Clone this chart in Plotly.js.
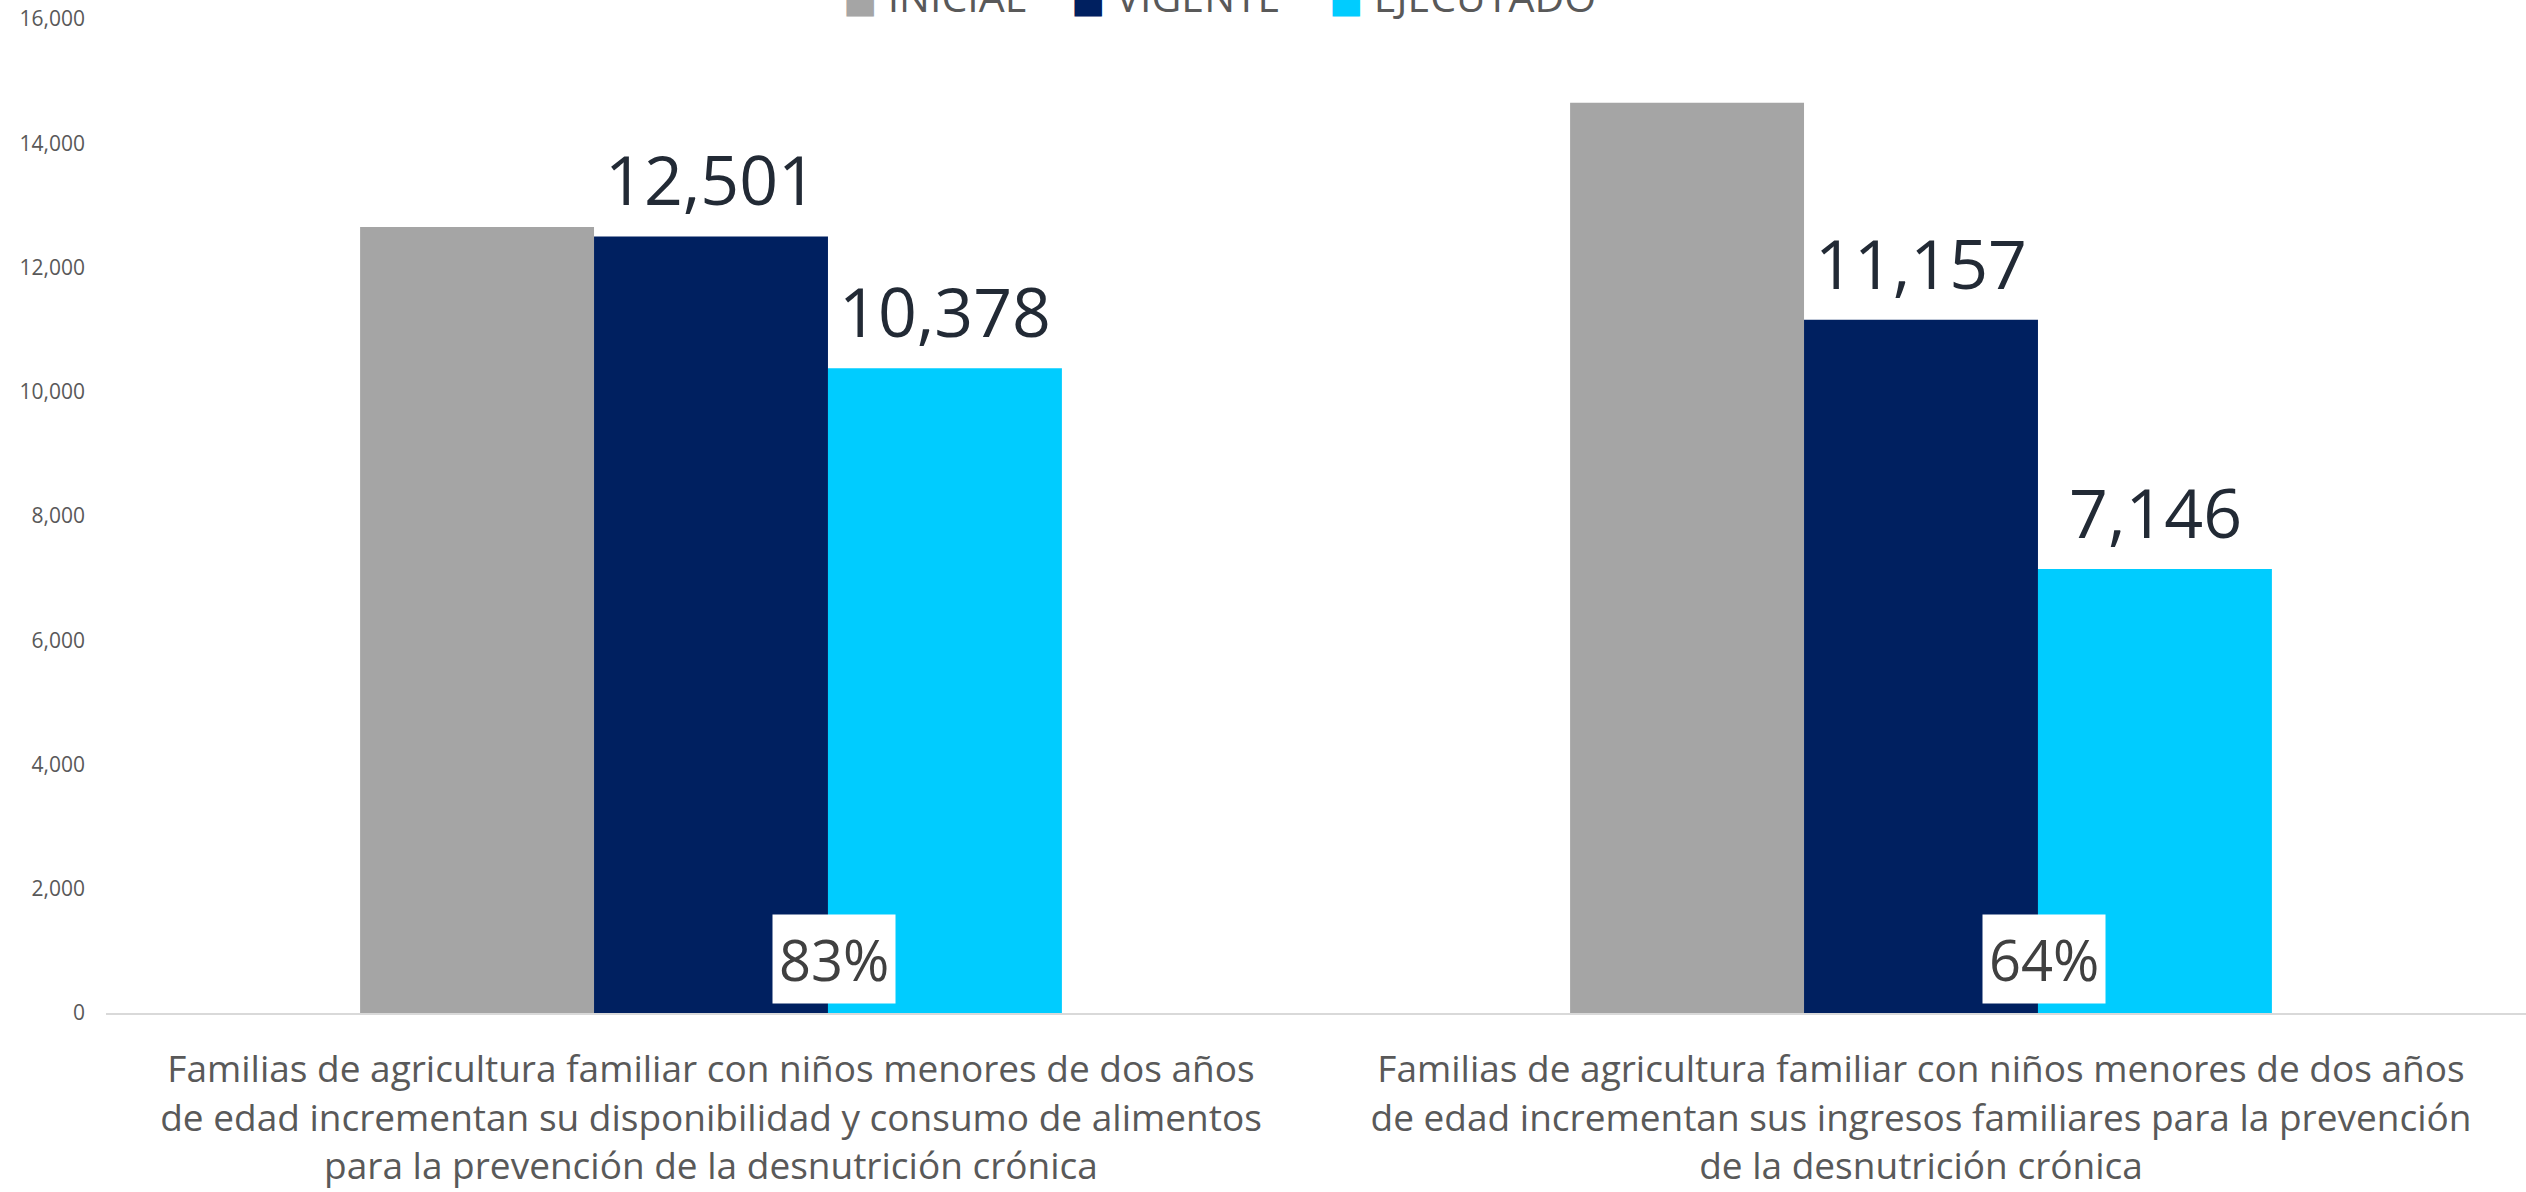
<!DOCTYPE html>
<html>
<head>
<meta charset="utf-8">
<script src="https://cdn.plot.ly/plotly-3.0.1.min.js"></script>
<style>
  html, body { margin: 0; padding: 0; background: #ffffff; }
  #chart { width: 2526px; height: 1192px; }
</style>
</head>
<body>
<div id="chart"></div>
<script>
// ---- data ----
const categories = [
  'Familias de agricultura familiar con niños menores de dos años<br>de edad incrementan su disponibilidad y consumo de alimentos<br>para la prevención de la desnutrición crónica',
  'Familias de agricultura familiar con niños menores de dos años<br>de edad incrementan sus ingresos familiares para la prevención<br>de la desnutrición crónica'
];
const seriesNames = ['INICIAL', 'VIGENTE', 'EJECUTADO'];
const inicial = [12650, 14650];
const vigente = [12501, 11157];
const ejecutado = [10378, 7146];
const yTicks = [0, 2000, 4000, 6000, 8000, 10000, 12000, 14000, 16000];

// ---- style ----
const colors = ['#A5A5A5', '#002060', '#00CCFF'];
const FONT = '"Open Sans", "Noto Sans", "DejaVu Sans", sans-serif';
const labelColor = '#222A35';
const axisText = '#595959';
const BAR_PX = 234;

const traces = seriesNames.map((n, i) => ({
  type: 'bar', name: n, x: categories, y: [inicial, vigente, ejecutado][i],
  marker: { color: colors[i] }, hoverinfo: 'skip'
}));

const annotations = [];
// value labels above VIGENTE and EJECUTADO bars
categories.forEach((c, i) => {
  [[vigente, 0], [ejecutado, BAR_PX]].forEach(([arr, dx]) => {
    annotations.push({
      x: c, y: arr[i], xref: 'x', yref: 'y',
      xanchor: 'center', yanchor: 'bottom',
      xshift: dx, yshift: 9,
      text: arr[i].toLocaleString('en-US'), showarrow: false,
      font: { family: FONT, size: 68, color: labelColor }
    });
  });
});
// percentage boxes (executed / current)
categories.forEach((c, i) => {
  const pct = Math.round(ejecutado[i] / vigente[i] * 100);
  annotations.push({
    x: c, y: 0, xref: 'x', yref: 'y',
    xanchor: 'center', yanchor: 'bottom',
    xshift: 123, yshift: 9,
    text: pct + '%', showarrow: false,
    bgcolor: '#ffffff', borderpad: 6,
    font: { family: FONT, size: 56, color: '#404040' }
  });
});
// legend entries
const legendX = [0.3037, 0.398, 0.5045];
seriesNames.forEach((n, i) => {
  annotations.push({
    x: legendX[i], y: 0.993, xref: 'paper', yref: 'paper',
    xanchor: 'left', yanchor: 'bottom', showarrow: false,
    text: '<span style="color:' + colors[i] + ';font-size:36px">■</span> ' + n,
    font: { family: FONT, size: 41, color: axisText }
  });
});

const layout = {
  width: 2526, height: 1192,
  margin: { l: 106, r: 0, t: 19, b: 179, pad: 0 },
  paper_bgcolor: '#ffffff', plot_bgcolor: '#ffffff',
  barmode: 'group', bargap: 0.42, bargroupgap: 0,
  showlegend: false,
  font: { family: FONT, color: axisText },
  xaxis: {
    type: 'category',
    showline: true, linecolor: '#D9D9D9', linewidth: 2,
    showgrid: false, zeroline: false, ticks: '',
    tickfont: { family: FONT, size: 37, color: axisText },
    ticklabelstandoff: 23,
    fixedrange: true
  },
  yaxis: {
    range: [0, 16000], tickvals: yTicks, tickformat: ',d',
    showline: false, showgrid: false, zeroline: false, ticks: '',
    tickfont: { family: FONT, size: 21, color: axisText },
    ticklabelstandoff: 20,
    fixedrange: true
  },
  annotations: annotations
};

Plotly.newPlot('chart', traces, layout, { displayModeBar: false, staticPlot: true });
</script>
</body>
</html>
